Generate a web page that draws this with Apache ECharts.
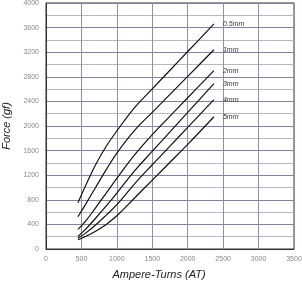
<!DOCTYPE html>
<html><head><meta charset="utf-8">
<script src="https://cdn.jsdelivr.net/npm/echarts@6/dist/echarts.min.js"></script>
<style>html,body{margin:0;padding:0;background:#fff}#c{width:302px;height:284px}</style>
</head><body><div id="c"></div>
<script>
const ampereTurns = [450, 550, 700, 850, 1000, 1250, 1500, 1750, 2000, 2370];
const gap05 = [750, 1010, 1370, 1670, 1920, 2300, 2604, 2907, 3211, 3660];
const gap1  = [525, 710, 1000, 1290, 1560, 1930, 2222, 2515, 2807, 3240];
const gap2  = [320, 440, 670, 910, 1150, 1530, 1860, 2160, 2460, 2900];
const gap3  = [205, 310, 500, 700, 910, 1270, 1590, 1904, 2220, 2690];
const gap4  = [175, 250, 390, 550, 720, 1060, 1370, 1672, 1978, 2430];
const gap5  = [150, 200, 290, 400, 540, 830, 1120, 1410, 1700, 2150];
const seriesNames = ['0.5mm', '1mm', '2mm', '3mm', '4mm', '5mm'];
const seriesValues = [gap05, gap1, gap2, gap3, gap4, gap5];

const chart = echarts.init(document.getElementById('c'));
chart.setOption({
  animation: false,
  grid: {left: 46, right: 8, top: 3, bottom: 35, containLabel: false, outerBoundsMode: 'none',
         show: true, borderColor: '#333', borderWidth: 1},
  xAxis: {
    type: 'value', min: 0, max: 3500, interval: 500,
    name: 'Ampere-Turns (AT)', nameLocation: 'middle', nameGap: 20,
    nameTextStyle: {fontFamily: 'Liberation Sans', fontStyle: 'italic', fontSize: 11, color: '#222', padding: [0, 22, 0, 0]},
    axisLine: {lineStyle: {color: '#333'}}, axisTick: {show: false},
    axisLabel: {fontFamily: 'Liberation Sans', fontSize: 7, color: '#888', margin: 7, formatter: v => String(v)},
    splitLine: {lineStyle: {color: '#8c92a6', width: 1}}
  },
  yAxis: {
    type: 'value', min: 0, max: 4000, interval: 400,
    name: 'Force (gf)', nameLocation: 'middle', nameGap: 29,
    nameTextStyle: {fontFamily: 'Liberation Sans', fontStyle: 'italic', fontSize: 11, color: '#222'},
    axisLine: {lineStyle: {color: '#333'}}, axisTick: {show: false},
    axisLabel: {fontFamily: 'Liberation Sans', fontSize: 7, color: '#888', margin: 7, formatter: v => String(v)},
    splitLine: {lineStyle: {color: '#7f8598', width: 1}},
    minorTick: {show: false, splitNumber: 2},
    minorSplitLine: {show: true, lineStyle: {color: '#b4b8c6', width: 1}}
  },
  series: seriesNames.map((n, i) => ({
    name: n, type: 'line', smooth: 0.4, symbol: 'none',
    data: ampereTurns.map((x, j) => [x, seriesValues[i][j]]),
    lineStyle: {color: '#111', width: 1.2},
    endLabel: {show: true, formatter: n, distance: 9, fontFamily: 'Liberation Sans', fontStyle: 'italic', fontSize: 7, color: '#333'}
  }))
});
</script></body></html>
